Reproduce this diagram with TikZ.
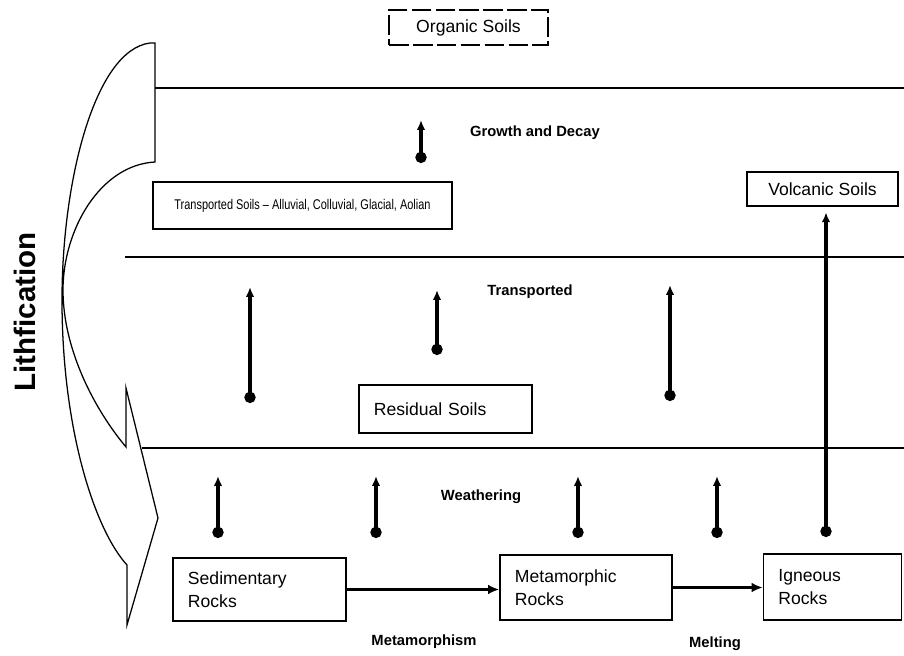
\documentclass[tikz,border=0pt]{standalone}
\usepackage{fontspec}
\setmainfont{Liberation Sans}
\newfontfamily\narrowsans{Liberation Sans}[FakeStretch=0.78]
\usepackage{tikz}
\usetikzlibrary{arrows.meta}

\begin{document}
\begin{tikzpicture}
	[
	x=0.025cm, y=-0.025cm,
	soilbox/.style={
		draw,
		line width=1pt,
		align=center,
		inner sep=0pt,
		font=\fontsize{12.5}{16}\selectfont
	},
	rockbox/.style={
		draw,
		line width=1pt,
		align=left,
		inner xsep=3.75mm,
		inner ysep=0pt,
		text width=#1,
		font=\fontsize{12.5}{16.5}\selectfont
	},
	band/.style={
		line width=1.2pt
	},
	uparrow/.style={
		{Circle[length=8pt]}-{Latex[length=7pt,width=6pt]},
		line width=2.2pt
	},
	rockarrow/.style={
		-{Latex[length=8pt,width=7pt]},
		line width=2.2pt
	},
	process/.style={
		font=\fontsize{10.5}{12}\selectfont\bfseries
	}
	]
	\useasboundingbox (0,0) rectangle (904,656);
	
	% Lithification arrow
	\draw[line width=0.9pt] (155,43) -- (150,43)
		.. controls (95,50) and (62,180) .. (62,300)
		.. controls (62,430) and (95,530) .. (127,565)
		-- (127,625) -- (158,518) -- (126,388) -- (126,447)
		.. controls (95,410) and (63,350) .. (63,290)
		.. controls (63,230) and (100,165) .. (155,162)
		-- cycle;
	\node[rotate=90, font=\fontsize{21}{25}\selectfont\bfseries] (lithification) at (25,312)
	{Lithfication};
	
	% Band lines
	\draw[band] (155,88) -- (904,88);
	\draw[band] (125,257) -- (904,257);
	\draw[band] (142,448) -- (904,448);
	
	% Soils
	\node[soilbox, dashed, dash pattern=on 14pt off 3pt, minimum width=39.75mm, minimum height=8.75mm] (organic_soils) at (468.5,27.5)
	{Organic Soils};
	
	\node[soilbox, font=\narrowsans\fontsize{10}{12}\selectfont, minimum width=74.75mm, minimum height=11.75mm] (transported_soils) at (302.5,205.5)
	{Transported Soils \textendash{} Alluvial, Colluvial, Glacial, Aolian};
	
	\node[soilbox, minimum width=37.75mm, minimum height=8.5mm] (volcanic_soils) at (822.5,189)
	{Volcanic Soils};
	
	\node[rockbox=35.75mm, minimum height=12mm] (residual_soils) at (445.5,409)
	{Residual Soils};
	
	% Rocks
	\node[rockbox=35.75mm, minimum height=15.75mm] (sedimentary) at (259.5,589.5)
	{Sedimentary\\Rocks};
	
	\node[rockbox=35.5mm, minimum height=16.25mm] (metamorphic) at (586,587.5)
	{Metamorphic\\Rocks};
	
	\node[rockbox=27mm, minimum height=16.5mm] (igneous) at (832.5,587)
	{Igneous\\Rocks};
	
	% Process labels
	\node[process] (growth_decay) at (535,133) {Growth and Decay};
	\node[process] (transported) at (530,292) {Transported};
	\node[process] (weathering) at (481,497) {Weathering};
	\node[process] (metamorphism) at (424,642) {Metamorphism};
	\node[process] (melting) at (715,644) {Melting};
	
	% Arrows
	\coordinate (growth_dot) at (421,163);
	\coordinate (growth_tip) at (421,120);
	\draw[uparrow] (growth_dot) -- (growth_tip);
	
	\foreach \x/\d/\t/\n in {250/403/287/1, 437/355/290/2, 670/401/285/3} {
		\coordinate (tdot\n) at (\x,\d);
		\coordinate (ttip\n) at (\x,\t);
		\draw[uparrow] (tdot\n) -- (ttip\n);
	}
	
	\foreach \x/\n in {218/1, 376/2, 578/3, 717/4} {
		\coordinate (wdot\n) at (\x,538);
		\coordinate (wtip\n) at (\x,476);
		\draw[uparrow] (wdot\n) -- (wtip\n);
	}
	
	\coordinate (volcanic_dot) at (826,537);
	\draw[uparrow, shorten >=4pt] (volcanic_dot) -- (volcanic_dot |- volcanic_soils.south);
	
	\draw[rockarrow] (sedimentary.east) -- (sedimentary.east -| metamorphic.west);
	\draw[rockarrow] (metamorphic.east) -- (metamorphic.east -| igneous.west);
	
\end{tikzpicture}
\end{document}
